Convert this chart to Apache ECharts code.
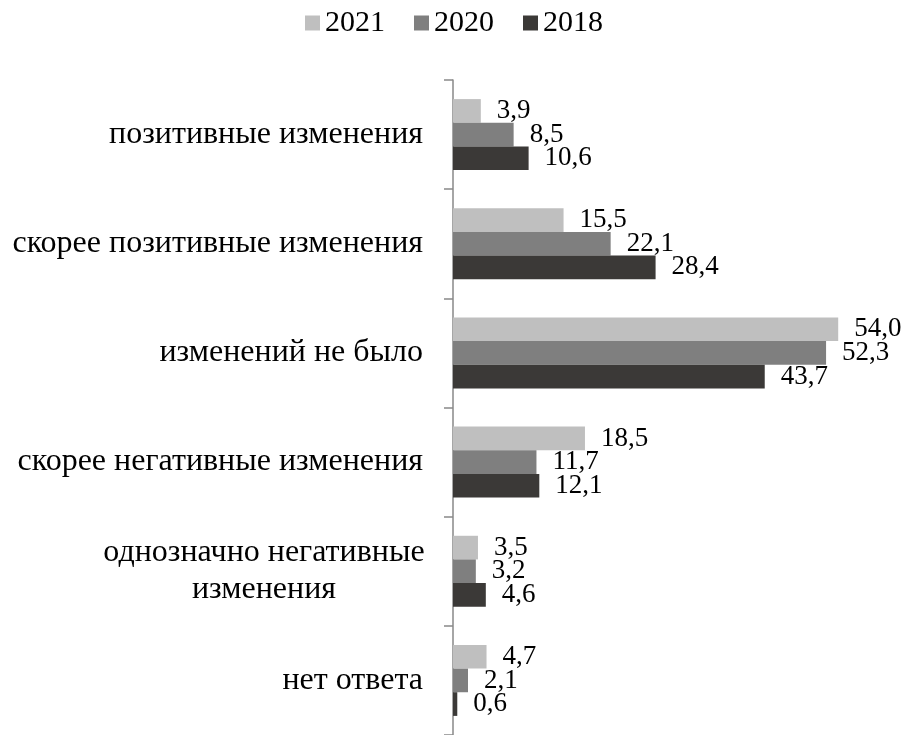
<!DOCTYPE html>
<html>
<head>
<meta charset="utf-8">
<script src="https://cdn.jsdelivr.net/npm/echarts@6/dist/echarts.min.js"></script>
<style>
  html, body { margin: 0; padding: 0; background: #fff; }
  #chart { width: 904px; height: 735px; }
</style>
</head>
<body>
<div id="chart"></div>
<script>
// Categories, top to bottom
const categories = [
    'позитивные изменения',
    'скорее позитивные изменения',
    'изменений не было',
    'скорее негативные изменения',
    'однозначно негативные\nизменения',
    'нет ответа'
];

const values2021 = [3.9, 15.5, 54.0, 18.5, 3.5, 4.7];
const values2020 = [8.5, 22.1, 52.3, 11.7, 3.2, 2.1];
const values2018 = [10.6, 28.4, 43.7, 12.1, 4.6, 0.6];

const seriesNames = ['2021', '2020', '2018'];
const seriesColors = ['#bfbfbf', '#7f7f7f', '#3b3937'];

const FONT = '"Liberation Serif", "Times New Roman", serif';

const chart = echarts.init(document.getElementById('chart'));

// Label text uses a decimal comma
const fmt = p => p.value.toFixed(1).replace('.', ',');

// Two-line category names get centred lines, like the original
const catFmt = value => {
    if (value.indexOf('\n') < 0) return value;
    return value.split('\n').map(s => '{c|' + s + '}').join('\n');
};

const makeSeries = (name, data, color) => ({
    name: name,
    type: 'bar',
    data: data,
    barGap: '0%',
    barCategoryGap: '35%',
    itemStyle: { color: color },
    label: {
        show: true,
        position: 'right',
        distance: 16,
        formatter: fmt,
        fontFamily: FONT,
        fontSize: 27,
        color: '#000'
    }
});

const option = {
    animation: false,
    legend: {
        data: seriesNames,
        top: 8,
        left: 305,
        padding: 0,
        itemWidth: 15,
        itemHeight: 15,
        itemGap: 29,
        icon: 'rect',
        textStyle: {
            fontFamily: FONT,
            fontSize: 30,
            color: '#000'
        }
    },
    grid: {
        left: 453,
        top: 80,
        height: 663,
        right: 23,
        containLabel: false
    },
    xAxis: {
        type: 'value',
        min: 0,
        max: 60,
        show: false
    },
    yAxis: {
        type: 'category',
        data: categories,
        inverse: true,
        axisLine: { show: true, lineStyle: { color: '#898989', width: 1.5 } },
        axisTick: { show: true, length: 9, lineStyle: { color: '#898989', width: 1.5 } },
        axisLabel: {
            margin: 30,
            fontFamily: FONT,
            fontSize: 32,
            lineHeight: 37,
            color: '#000',
            formatter: catFmt,
            rich: {
                c: {
                    width: 318,
                    align: 'center',
                    fontFamily: FONT,
                    fontSize: 32,
                    lineHeight: 37,
                    color: '#000'
                }
            }
        }
    },
    series: [
        makeSeries(seriesNames[0], values2021, seriesColors[0]),
        makeSeries(seriesNames[1], values2020, seriesColors[1]),
        makeSeries(seriesNames[2], values2018, seriesColors[2])
    ]
};

chart.setOption(option);
</script>
</body>
</html>
